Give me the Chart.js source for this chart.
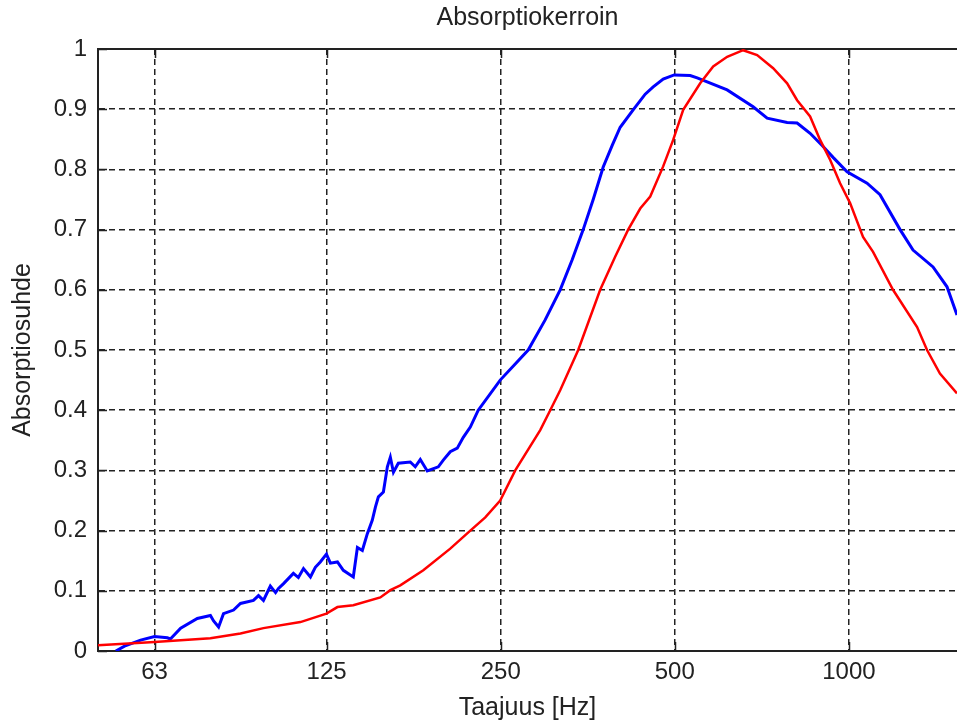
<!DOCTYPE html>
<html>
<head>
<meta charset="utf-8">
<script src="https://cdn.jsdelivr.net/npm/chart.js@4"></script>
<style>
    body { margin: 0; background: #ffffff; }
    #wrap { width: 957px; height: 724px; }
</style>
</head>
<body>
<div id="wrap"><canvas id="absChart" width="957" height="724"></canvas></div>
<script>
// Absorptiokerroin - two measured absorption curves on a log frequency axis

const xTicks = [63, 125, 250, 500, 1000];

// Blue curve (frequency in Hz, absorption ratio)
const blueFreq = [54.0, 55.9, 59.6, 63.0, 66.3, 67.1, 69.9, 74.7, 78.7, 79.7, 81.3, 82.9, 86.3, 88.7, 93.4, 95.3, 97.2, 99.9,
    102.0, 103.2, 105.3, 109.5, 111.7, 114.0, 117.2, 119.5, 121.9, 124.9, 126.9, 130.5, 133.6, 139.0, 141.3, 144.1, 147.0,
    149.9, 151.8, 153.6, 156.7, 159.2, 161.1, 163.1, 166.3, 174.4, 177.9, 181.5, 186.6, 195.0, 198.9, 204.5, 210.3, 215.4,
    221.5, 228.6, 249.5, 278.9, 298.4, 316.8, 332.3, 347.2, 361.3, 376.0, 389.7, 402.3, 423.6, 444.4, 458.8, 477.4, 498.8,
    531.6, 546.6, 615.9, 683.0, 722.2, 782.0, 813.7, 856.9, 902.4, 939.0, 992.8, 1075, 1132, 1226, 1291, 1398, 1478, 1538];
const blueAbs = [0, 0.008, 0.018, 0.024, 0.022, 0.02, 0.038, 0.054, 0.059, 0.05, 0.04, 0.062, 0.068, 0.079, 0.084, 0.092, 0.084, 0.108,
    0.097, 0.104, 0.112, 0.129, 0.122, 0.137, 0.123, 0.139, 0.148, 0.161, 0.146, 0.148, 0.134, 0.123, 0.172, 0.167, 0.195,
    0.217, 0.239, 0.256, 0.264, 0.306, 0.322, 0.297, 0.312, 0.314, 0.306, 0.318, 0.299, 0.306, 0.317, 0.331, 0.337, 0.355,
    0.372, 0.40, 0.45, 0.50, 0.55, 0.60, 0.65, 0.70, 0.75, 0.804, 0.84, 0.87, 0.899, 0.925, 0.937, 0.95, 0.957,
    0.956, 0.952, 0.932, 0.904, 0.885, 0.878, 0.877, 0.86, 0.838, 0.82, 0.796, 0.777, 0.758, 0.70, 0.666, 0.638, 0.605, 0.558];

// Red curve
const redFreq = [50.3, 63.0, 78.7, 88.7, 97.2, 112.6, 124.9, 130.5, 139.0, 154.8, 161.1, 167.6, 183.7, 204.5, 221.5, 235.1, 249.5,
    264.9, 292.6, 304.5, 316.8, 340.4, 371.5, 394.3, 415.3, 435.7, 453.4, 477.4, 496.8, 517.0, 553.2, 582.6, 615.9, 656.4, 694.0,
    739.7, 782.0, 813.7, 856.9, 891.7, 927.9, 965.6, 1004.8, 1058, 1101, 1192, 1312, 1365, 1437, 1538];
const redAbs = [0.0095, 0.015, 0.021, 0.029, 0.038, 0.048, 0.062, 0.073, 0.076, 0.089, 0.101, 0.109, 0.134, 0.17, 0.2, 0.222, 0.25,
    0.30, 0.367, 0.40, 0.433, 0.50, 0.60, 0.655, 0.70, 0.735, 0.755, 0.805, 0.849, 0.899, 0.943, 0.971, 0.987, 0.998, 0.99,
    0.968, 0.943, 0.915, 0.888, 0.849, 0.816, 0.777, 0.744, 0.688, 0.663, 0.60, 0.538, 0.50, 0.461, 0.428];

const INK = '#222222';
const FONT = '"Liberation Sans", Arial, sans-serif';

function toPoints(xs, ys) {
    return xs.map((f, i) => ({ x: f, y: ys[i] }));
}

// matlab style frame: top border + inward tick marks
const framePlugin = {
    id: 'frame',
    beforeDatasetsDraw(chart) {
        const { ctx, chartArea: a, scales } = chart;
        const len = 9;
        ctx.save();
        ctx.strokeStyle = INK;
        ctx.lineWidth = 2;
        ctx.beginPath();
        ctx.moveTo(a.left, a.top);
        ctx.lineTo(a.right, a.top);
        ctx.stroke();
        ctx.lineWidth = 1.5;
        ctx.beginPath();
        xTicks.forEach(t => {
            const px = Math.round(scales.x.getPixelForValue(t)) + 0.5;
            ctx.moveTo(px, a.bottom);
            ctx.lineTo(px, a.bottom - len);
            ctx.moveTo(px, a.top);
            ctx.lineTo(px, a.top + len);
        });
        scales.y.ticks.forEach(t => {
            const py = Math.round(scales.y.getPixelForValue(t.value)) + 0.5;
            ctx.moveTo(a.left, py);
            ctx.lineTo(a.left + len, py);
        });
        ctx.stroke();
        ctx.restore();
    }
};

document.addEventListener('DOMContentLoaded', function() {
    const ctx = document.getElementById('absChart').getContext('2d');
    Chart.defaults.font.family = FONT;
    Chart.defaults.color = INK;

    new Chart(ctx, {
        type: 'line',
        data: {
            datasets: [
                {
                    label: 'red',
                    data: toPoints(redFreq, redAbs),
                    borderColor: '#ff0000',
                    borderWidth: 2.5,
                    pointRadius: 0,
                    tension: 0,
                    fill: false
                },
                {
                    label: 'blue',
                    data: toPoints(blueFreq, blueAbs),
                    borderColor: '#0000ff',
                    borderWidth: 3,
                    pointRadius: 0,
                    tension: 0,
                    fill: false
                }
            ]
        },
        options: {
            responsive: false,
            animation: false,
            layout: { padding: 0 },
            plugins: {
                legend: { display: false },
                tooltip: { enabled: false },
                title: {
                    display: true,
                    text: 'Absorptiokerroin',
                    fullSize: false,
                    color: INK,
                    font: { size: 25, weight: 'normal', lineHeight: 1.2 },
                    padding: { top: 3, bottom: 16 }
                }
            },
            scales: {
                x: {
                    type: 'logarithmic',
                    min: 50.3,
                    max: 1538,
                    afterBuildTicks: function(scale) {
                        scale.ticks = xTicks.map(v => ({ value: v }));
                    },
                    afterFit: function(scale) {
                        scale.height = 73;
                    },
                    ticks: {
                        color: INK,
                        padding: 7,
                        maxRotation: 0,
                        autoSkip: false,
                        font: { size: 24 },
                        callback: function(value) {
                            return String(value);
                        }
                    },
                    grid: {
                        color: INK,
                        lineWidth: 1.5,
                        drawTicks: false
                    },
                    border: {
                        display: true,
                        color: INK,
                        width: 2,
                        dash: [6, 4]
                    },
                    title: {
                        display: true,
                        text: 'Taajuus [Hz]',
                        color: INK,
                        font: { size: 25, lineHeight: 1.2 },
                        padding: { top: 0, bottom: 1 }
                    }
                },
                y: {
                    type: 'linear',
                    min: 0,
                    max: 1,
                    afterFit: function(scale) {
                        scale.width = 98;
                    },
                    ticks: {
                        stepSize: 0.1,
                        color: INK,
                        padding: 11,
                        font: { size: 24 },
                        callback: function(value) {
                            return String(+value.toFixed(1));
                        }
                    },
                    grid: {
                        color: INK,
                        lineWidth: 1.5,
                        drawTicks: false
                    },
                    border: {
                        display: true,
                        color: INK,
                        width: 2,
                        dash: [6, 4]
                    },
                    title: {
                        display: true,
                        text: 'Absorptiosuhde',
                        color: INK,
                        font: { size: 25, lineHeight: 1.2 },
                        padding: { top: 8, bottom: 0 }
                    }
                }
            }
        },
        plugins: [framePlugin]
    });
});
</script>
</body>
</html>
